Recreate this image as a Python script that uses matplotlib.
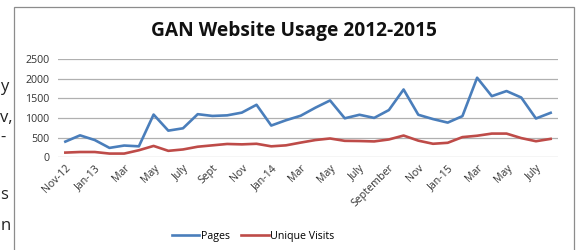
import matplotlib
matplotlib.use("Agg")
import matplotlib.pyplot as plt
from matplotlib.lines import Line2D
from matplotlib.patches import Rectangle

# Data (monthly, Nov-2012 .. Aug-2015)
pages = [400, 560, 440, 240, 300, 280, 1090, 680, 740, 1100, 1055, 1070,
         1140, 1340, 810, 945, 1060, 1265, 1450, 995, 1085, 1005, 1205, 1730,
         1085, 975, 885, 1050, 2030, 1560, 1690, 1525, 990, 1135]
unique_visits = [120, 135, 135, 95, 95, 180, 290, 165, 200, 270, 305, 340,
                 330, 345, 280, 305, 375, 440, 480, 420, 415, 405, 455, 555,
                 425, 345, 370, 515, 550, 605, 605, 490, 410, 470]
tick_labels = ["Nov-12", "Jan-13", "Mar", "May", "July", "Sept", "Nov",
               "Jan-14", "Mar", "May", "July", "September", "Nov", "Jan-15",
               "Mar", "May", "July"]
y_ticks = [0, 500, 1000, 1500, 2000, 2500]
title = "GAN Website Usage 2012-2015"
side_fragments = ["y", "v,", "-", "s", "n"]

plt.rcParams['font.family'] = ['Open Sans', 'DejaVu Sans']

W, H = 576, 250
fig = plt.figure(figsize=(W / 100, H / 100), dpi=100)

# chart border
fig.patches.append(Rectangle((13.5 / W, -0.1), (574 - 13.5) / W, 1.1 - 7 / H,
                             transform=fig.transFigure, fill=False,
                             edgecolor="#8c8c8c", lw=0.9))

# text fragments on the left, outside the chart
frag_y = [87, 118, 138, 195, 226]
for s, yy in zip(side_fragments, frag_y):
    fig.text(0.5 / W, 1 - yy / H, s, fontsize=12, color="#222222",
             ha="left", va="center")

left, right = 58 / W, 558 / W
bottom, top = 1 - 157.3 / H, 1 - 59.3 / H
ax = fig.add_axes([left, bottom, right - left, top - bottom])

x = list(range(len(pages)))
ax.plot(x, pages, color="#4A7EBB", lw=1.9, solid_joinstyle="round", label="Pages")
ax.plot(x, unique_visits, color="#BE4B48", lw=1.9, solid_joinstyle="round",
        label="Unique Visits")

ax.set_xlim(-0.5, len(pages) - 0.5)
ax.set_ylim(0, 2500)
ax.set_yticks(y_ticks)
ax.set_yticklabels([str(v) for v in y_ticks], fontsize=7.7, color="#333333")
ax.yaxis.grid(True, color="#b0b0b0", lw=0.9)
ax.set_axisbelow(True)
for sp in ax.spines.values():
    sp.set_visible(False)
ax.tick_params(axis="both", length=0, pad=6)

ax.set_xticks(list(range(0, len(pages), 2))[:len(tick_labels)])
ax.set_xticklabels(tick_labels, rotation=45, ha="right", va="top",
                   rotation_mode="anchor", fontsize=7.7, color="#333333")
ax.tick_params(axis="x", pad=4)

fig.text(294 / W, 1 - 31 / H, title, fontsize=13.8, fontweight="bold",
         ha="center", va="center", color="#111111")

handles = [Line2D([0], [0], color="#4A7EBB", lw=1.9),
           Line2D([0], [0], color="#BE4B48", lw=1.9)]
fig.legend(handles, ["Pages", "Unique Visits"], loc="center",
           bbox_to_anchor=(253 / W, 1 - 236 / H), ncol=2, frameon=False,
           fontsize=7.7, handlelength=2.6, handletextpad=0.15, columnspacing=1.0)

fig.savefig("out.png", dpi=100)
